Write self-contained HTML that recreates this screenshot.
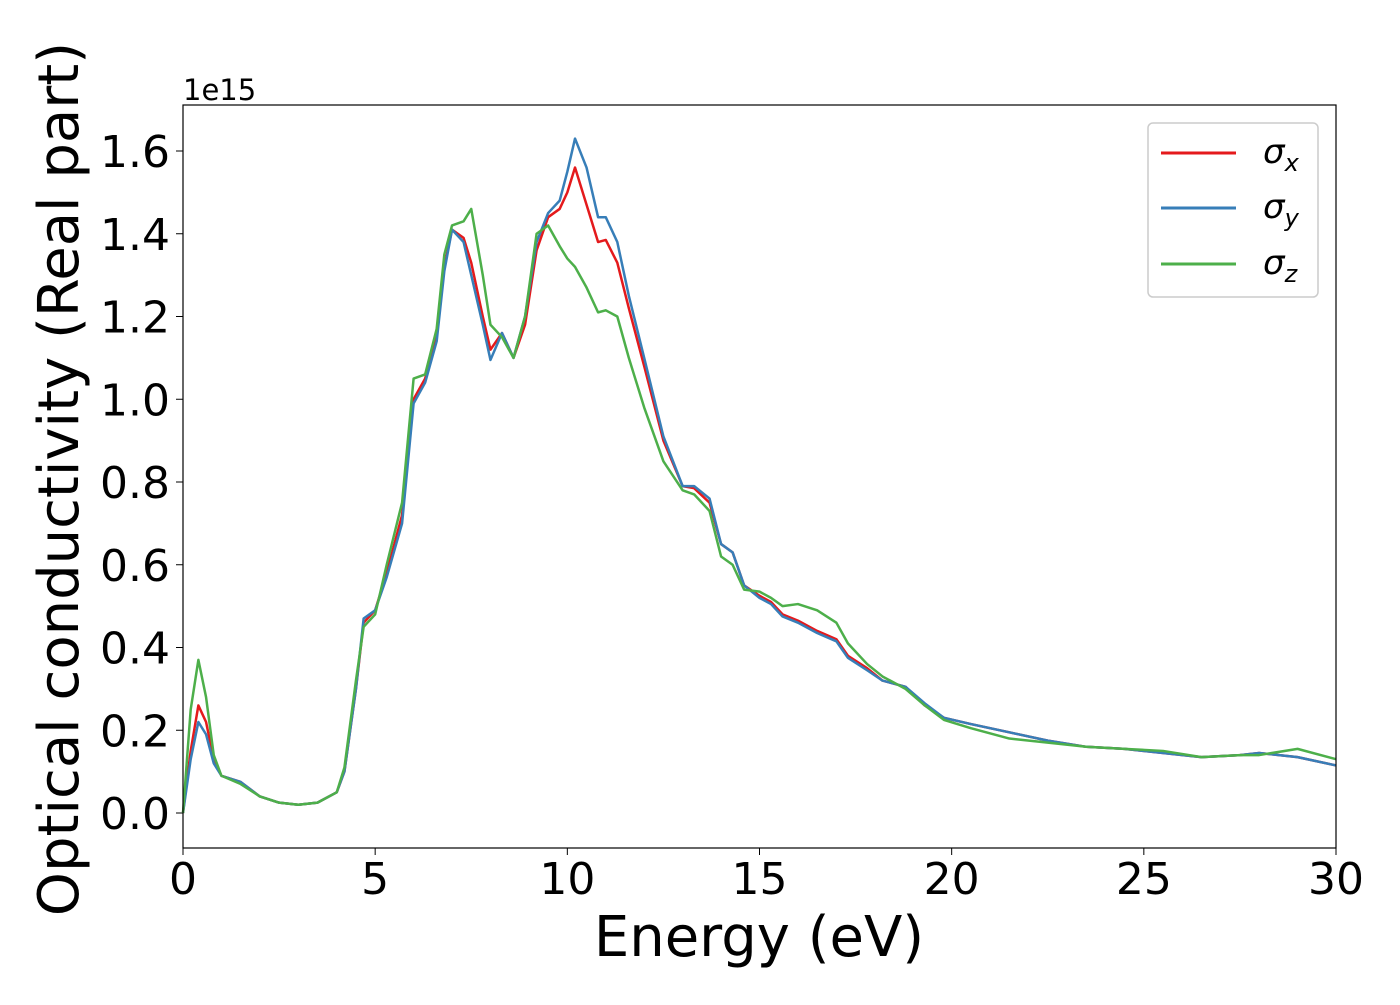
<!DOCTYPE html>
<html><head><meta charset="utf-8"><style>
body{margin:0;background:#fff;}
svg text{font-family:"DejaVu Sans","Liberation Sans",sans-serif;}
</style></head><body>
<svg id="chart" width="1400" height="1000" xmlns="http://www.w3.org/2000/svg">
<rect width="1400" height="1000" fill="#fff"/>
<g id="ticks"></g>
<g id="lines"></g>
<rect x="183" y="105" width="1153" height="743" fill="none" stroke="#000" stroke-width="1.2"/>
<text x="183" y="100" font-size="29">1e15</text>
<text x="759" y="956" font-size="56" text-anchor="middle">Energy (eV)</text>
<text transform="translate(78,479) rotate(-90)" font-size="56" text-anchor="middle">Optical conductivity (Real part)</text>
<g>
<rect x="1148" y="123" width="170" height="174" rx="5" fill="#fff" stroke="#ccc" stroke-width="1.5"/>
<line x1="1161" y1="153" x2="1236" y2="153" stroke="#e41a1c" stroke-width="3"/>
<text x="1263" y="163" font-size="34" font-style="italic">σ<tspan font-size="24" dy="8">x</tspan></text>
<line x1="1161" y1="208" x2="1236" y2="208" stroke="#377eb8" stroke-width="3"/>
<text x="1263" y="218" font-size="34" font-style="italic">σ<tspan font-size="24" dy="8">y</tspan></text>
<line x1="1161" y1="264" x2="1236" y2="264" stroke="#4daf4a" stroke-width="3"/>
<text x="1263" y="274" font-size="34" font-style="italic">σ<tspan font-size="24" dy="8">z</tspan></text>
</g>
</svg>
<script>
const energy=[0,0.2,0.4,0.6,0.8,1.0,1.5,2,2.5,3,3.5,4,4.2,4.5,4.7,5.0,5.3,5.7,6.0,6.3,6.6,6.8,7.0,7.3,7.5,7.8,8.0,8.3,8.6,8.9,9.2,9.5,9.8,10.0,10.2,10.5,10.8,11.0,11.3,11.6,12.0,12.5,13.0,13.3,13.7,14.0,14.3,14.6,15.0,15.3,15.6,16.0,16.5,17.0,17.3,17.8,18.2,18.8,19.3,19.8,20.5,21.5,22.5,23.5,24.5,25.5,26.5,27.5,28,29,30];
const sigmaX=[0,0.15,0.26,0.22,0.13,0.09,0.075,0.04,0.025,0.02,0.025,0.05,0.1,0.3,0.46,0.49,0.58,0.72,1.0,1.05,1.15,1.32,1.41,1.39,1.33,1.2,1.12,1.16,1.10,1.18,1.36,1.44,1.46,1.5,1.56,1.47,1.38,1.385,1.33,1.22,1.08,0.9,0.79,0.785,0.75,0.65,0.63,0.55,0.525,0.51,0.48,0.465,0.44,0.42,0.38,0.35,0.32,0.305,0.26,0.23,0.215,0.195,0.175,0.16,0.155,0.145,0.135,0.14,0.145,0.135,0.115];
const sigmaY=[0,0.13,0.22,0.19,0.12,0.09,0.075,0.04,0.025,0.02,0.025,0.05,0.1,0.3,0.47,0.49,0.57,0.7,0.99,1.04,1.14,1.31,1.41,1.38,1.3,1.18,1.095,1.16,1.10,1.2,1.38,1.45,1.48,1.55,1.63,1.56,1.44,1.44,1.38,1.25,1.1,0.91,0.79,0.79,0.76,0.65,0.63,0.55,0.52,0.505,0.475,0.46,0.435,0.415,0.375,0.345,0.32,0.305,0.265,0.23,0.215,0.195,0.175,0.16,0.155,0.145,0.135,0.14,0.145,0.135,0.115];
const sigmaZ=[0,0.25,0.37,0.28,0.14,0.09,0.07,0.04,0.025,0.02,0.025,0.05,0.11,0.32,0.45,0.48,0.6,0.75,1.05,1.06,1.17,1.35,1.42,1.43,1.46,1.3,1.18,1.15,1.10,1.2,1.40,1.42,1.37,1.34,1.32,1.27,1.21,1.215,1.2,1.1,0.98,0.85,0.78,0.77,0.73,0.62,0.60,0.54,0.535,0.52,0.50,0.505,0.49,0.46,0.41,0.36,0.33,0.30,0.26,0.225,0.205,0.18,0.17,0.16,0.155,0.15,0.135,0.14,0.14,0.155,0.13];
const xTicks=[0,5,10,15,20,25,30];
const yTicks=[0,0.2,0.4,0.6,0.8,1.0,1.2,1.4,1.6];
const X=e=>183+e*1153/30;
const Y=v=>813-v*413.75;
const NS="http://www.w3.org/2000/svg";
const tg=document.getElementById('ticks');
xTicks.forEach(t=>{
  const l=document.createElementNS(NS,'line');
  
  
  l.setAttribute('x1',X(t));l.setAttribute('x2',X(t));l.setAttribute('y1',848);l.setAttribute('y2',855);l.setAttribute('stroke','#000');
  tg.appendChild(l);
  const s=document.createElementNS(NS,'text');
  
  
  s.setAttribute('x',X(t));s.setAttribute('y',894);s.setAttribute('font-size','44');s.setAttribute('text-anchor','middle');
  s.textContent=t;tg.appendChild(s);
});
yTicks.forEach(t=>{
  const l=document.createElementNS(NS,'line');
  
  
  l.setAttribute('x1',176);l.setAttribute('x2',183);l.setAttribute('y1',Y(t));l.setAttribute('y2',Y(t));l.setAttribute('stroke','#000');
  tg.appendChild(l);
  const s=document.createElementNS(NS,'text');
  
  
  s.setAttribute('x',170);s.setAttribute('y',Y(t)+16);s.setAttribute('font-size','44');s.setAttribute('text-anchor','end');
  s.textContent=t.toFixed(1);tg.appendChild(s);
});
const lg=document.getElementById('lines');
[[sigmaX,'#e41a1c','sigma-x-line'],[sigmaY,'#377eb8','sigma-y-line'],[sigmaZ,'#4daf4a','sigma-z-line']].forEach(([d,c,n])=>{
  const p=document.createElementNS(NS,'polyline');
  
  
  p.setAttribute('points',energy.map((e,i)=>X(e)+','+Y(d[i])).join(' '));
  p.setAttribute('fill','none');p.setAttribute('stroke',c);p.setAttribute('stroke-width','2.5');p.setAttribute('stroke-linejoin','round');
  lg.appendChild(p);
});
</script>
</body></html>
